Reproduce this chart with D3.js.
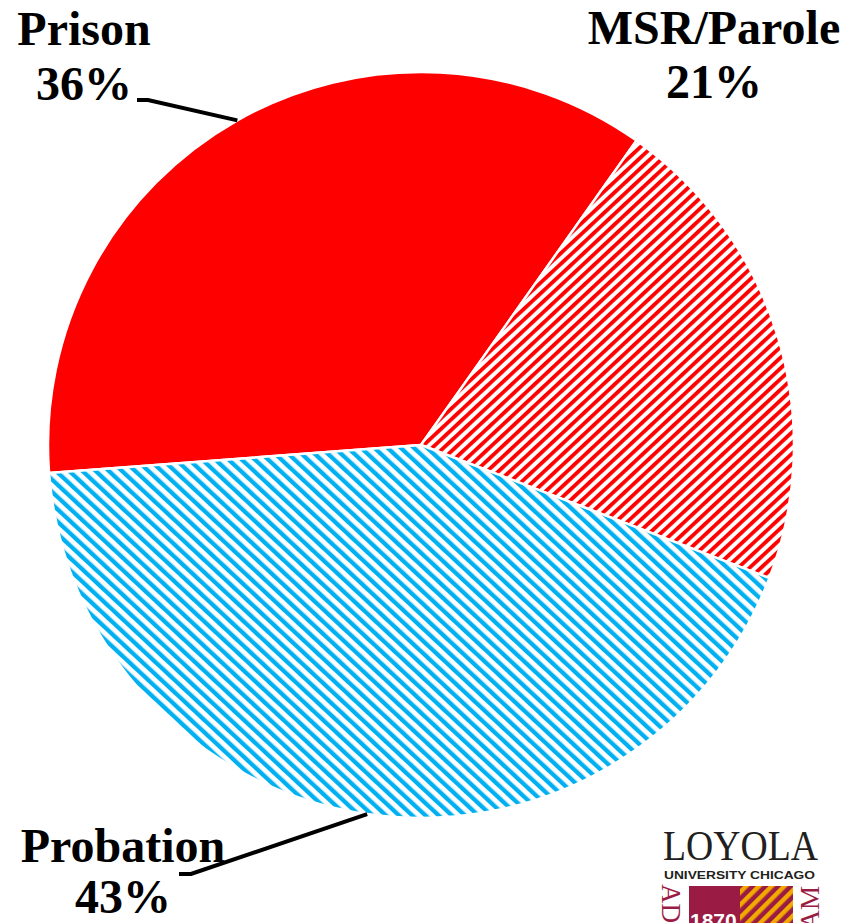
<!DOCTYPE html>
<html>
<head>
<meta charset="utf-8">
<script src="https://cdn.jsdelivr.net/npm/d3@7/dist/d3.min.js"></script>
<style>
  html, body { margin: 0; padding: 0; background: #ffffff; }
  svg { display: block; }
</style>
</head>
<body>
<div id="chart"></div>
<script>
// Share of supervised population by status
const categories = ["Prison", "MSR/Parole", "Probation"];
const shares = [36, 21, 43];
const shareLabels = ["36%", "21%", "43%"];

const width = 856, height = 923;
const cx = 421, cy = 445, radius = 373;
const deg = Math.PI / 180;

const svg = d3.select("#chart").append("svg")
  .attr("width", width).attr("height", height);

const defs = svg.append("defs");

// Diagonal stripe fills
function stripes(id, color, angle, period, thickness, bg) {
  const p = defs.append("pattern")
    .attr("id", id)
    .attr("patternUnits", "userSpaceOnUse")
    .attr("width", period).attr("height", period)
    .attr("patternTransform", `rotate(${angle})`);
  p.append("rect").attr("width", period).attr("height", period).attr("fill", bg || "#ffffff");
  p.append("rect").attr("x", 0).attr("y", 0)
    .attr("width", thickness).attr("height", period).attr("fill", color);
}
const maroon = "#9a1c44";
stripes("redStripes", "#ff0000", 47, 7.8, 3.8);
stripes("blueStripes", "#00b0f0", -47, 9, 4.3);
stripes("goldStripes", "#f2a900", 45, 9, 4.5, maroon);

const fills = ["#ff0000", "url(#redStripes)", "url(#blueStripes)"];

const pie = d3.pie().sort(null).value(d => d)
  .startAngle(-94.3 * deg).endAngle((360 - 94.3) * deg);
const arcs = pie(shares);

const arc = d3.arc().innerRadius(0).outerRadius(radius);
const rim = d3.arc().innerRadius(radius).outerRadius(radius);

const g = svg.append("g").attr("transform", `translate(${cx},${cy})`);
g.selectAll("path.slice")
  .data(arcs)
  .join("path")
  .attr("class", "slice")
  .attr("d", arc)
  .attr("fill", (d, i) => fills[i])
  .attr("stroke", "#ffffff")
  .attr("stroke-width", 2.5)
  .attr("stroke-linejoin", "round");

// Labels
const font = "'Liberation Serif', 'Times New Roman', serif";
const labelLayout = [
  { x: 84, y1: 45, y2: 100, elbow: [137, 148, 100], leader: true },
  { x: 714, y1: 44, y2: 98, leader: false },
  { x: 123, y1: 862, y2: 913, elbow: [179, 191, 874], leader: true }
];

arcs.forEach((d, i) => {
  const L = labelLayout[i];
  if (L.leader) {
    const [ex, ey] = rim.centroid(d);
    const [x0, x1, y] = L.elbow;
    svg.append("polyline")
      .attr("points", `${x0},${y} ${x1},${y} ${cx + ex},${cy + ey}`)
      .attr("fill", "none")
      .attr("stroke", "#000000")
      .attr("stroke-width", 4);
  }
  svg.append("text")
    .attr("x", L.x).attr("y", L.y1)
    .attr("text-anchor", "middle")
    .attr("font-family", font).attr("font-weight", "bold")
    .attr("font-size", 48).attr("fill", "#000000")
    .text(categories[i]);
  svg.append("text")
    .attr("x", L.x).attr("y", L.y2)
    .attr("text-anchor", "middle")
    .attr("font-family", font).attr("font-weight", "bold")
    .attr("font-size", 48).attr("fill", "#000000")
    .text(shareLabels[i]);
});

// University mark
const logo = svg.append("g");
logo.append("text")
  .attr("x", 663).attr("y", 860)
  .attr("font-family", font).attr("font-size", 42)
  .attr("fill", "#231f20")
  .attr("textLength", 155).attr("lengthAdjust", "spacingAndGlyphs")
  .text("LOYOLA");
logo.append("text")
  .attr("x", 664).attr("y", 878.5)
  .attr("font-family", "'Liberation Sans', Arial, sans-serif")
  .attr("font-weight", "bold").attr("font-size", 11.5)
  .attr("fill", "#231f20")
  .attr("textLength", 151).attr("lengthAdjust", "spacingAndGlyphs")
  .text("UNIVERSITY CHICAGO");
logo.append("rect")
  .attr("x", 689).attr("y", 886).attr("width", 51).attr("height", 40)
  .attr("fill", maroon);
logo.append("rect")
  .attr("x", 740).attr("y", 886).attr("width", 53).attr("height", 40)
  .attr("fill", "url(#goldStripes)");
logo.append("text")
  .attr("x", 690).attr("y", 928)
  .attr("font-family", "'Liberation Sans', Arial, sans-serif")
  .attr("font-weight", "bold").attr("font-size", 21)
  .attr("fill", "#ffffff")
  .text("1870");
logo.append("text")
  .attr("transform", "translate(662,884) rotate(90)")
  .attr("font-family", font).attr("font-size", 27)
  .attr("fill", maroon)
  .text("AD");
logo.append("text")
  .attr("transform", "translate(819,886) rotate(-90)")
  .attr("text-anchor", "end")
  .attr("font-family", font).attr("font-size", 27)
  .attr("fill", maroon)
  .text("AM");
</script>
</body>
</html>
